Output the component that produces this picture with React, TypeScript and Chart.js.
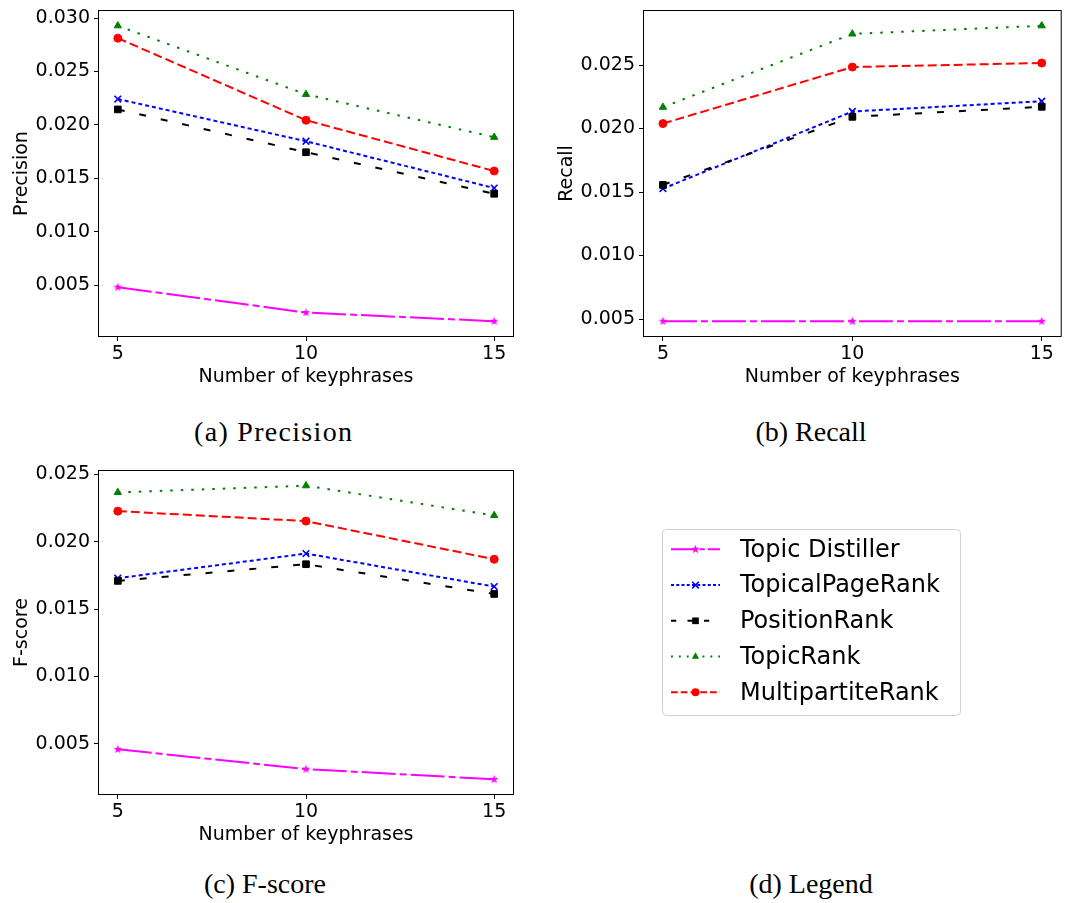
import React, { useEffect, useRef } from "react";
import { Chart, registerables } from "chart.js";

Chart.register(...registerables);

// ---------- data ----------
const keyphrases = [5, 10, 15];
const xTicks = [5, 10, 15];

const seriesNames = ["Topic Distiller", "TopicalPageRank", "PositionRank", "TopicRank", "MultipartiteRank"];

const precisionDistiller = [0.00481, 0.00243, 0.00162];
const precisionTopicalPageRank = [0.02242, 0.01847, 0.01409];
const precisionPositionRank = [0.02145, 0.01744, 0.01355];
const precisionTopicRank = [0.02928, 0.02286, 0.01885];
const precisionMultipartiteRank = [0.02812, 0.02044, 0.01568];

const recallDistiller = [0.00483, 0.00483, 0.00483];
const recallTopicalPageRank = [0.01527, 0.02134, 0.02215];
const recallPositionRank = [0.01556, 0.02092, 0.02171];
const recallTopicRank = [0.02168, 0.02745, 0.02809];
const recallMultipartiteRank = [0.02039, 0.02484, 0.02516];

const fscoreDistiller = [0.00459, 0.00312, 0.00236];
const fscoreTopicalPageRank = [0.01729, 0.01912, 0.01667];
const fscorePositionRank = [0.01709, 0.01833, 0.01612];
const fscoreTopicRank = [0.02366, 0.02416, 0.02195];
const fscoreMultipartiteRank = [0.02227, 0.02153, 0.0187];

const precisionTicks = [0.005, 0.01, 0.015, 0.02, 0.025, 0.03];
const recallTicks = [0.005, 0.01, 0.015, 0.02, 0.025];
const fscoreTicks = [0.005, 0.01, 0.015, 0.02, 0.025];

// ---------- styles ----------
const seriesColors = ["#ff00ff", "#0000ff", "#000000", "#008000", "#ff0000"];
const seriesDashes = [[34, 4, 7, 4], [4, 3], [7, 15], [2.5, 8], [9, 4]];
const seriesMarkers = ["star", "crossRot", "rect", "triangle", "circle"];
const seriesMarkerRadius = [4.5, 4.7, 4.7, 4.2, 4];

const FONT = "DejaVu Sans";
const TICK_SIZE = 19;
Chart.defaults.font.family = FONT;

function makeStar(color: string, r: number) {
  const c = document.createElement("canvas");
  const s = Math.ceil(r * 2 + 2);
  c.width = s;
  c.height = s;
  const ctx = c.getContext("2d")!;
  ctx.fillStyle = color;
  ctx.beginPath();
  for (let k = 0; k < 10; k++) {
    const ang = -Math.PI / 2 + (k * Math.PI) / 5;
    const rr = k % 2 === 0 ? r : r * 0.42;
    ctx.lineTo(s / 2 + rr * Math.cos(ang), s / 2 + rr * Math.sin(ang));
  }
  ctx.closePath();
  ctx.fill();
  return c;
}

function pointStyleFor(i: number): any {
  if (seriesMarkers[i] === "star") return makeStar(seriesColors[i], seriesMarkerRadius[i]);
  return seriesMarkers[i];
}

const framePlugin = {
  id: "frame",
  afterDatasetsDraw(chart: any) {
    const { ctx, chartArea: a } = chart;
    ctx.save();
    ctx.strokeStyle = "#000";
    ctx.lineWidth = 1;
    ctx.strokeRect(a.left - 0.5, a.top - 0.5, a.right - a.left + 1, a.bottom - a.top + 1);
    ctx.restore();
  },
};

type MetricProps = {
  left: number;
  top: number;
  width: number;
  height: number;
  padRight: number;
  yLabel: string;
  series: number[][];
  yTicks: number[];
};

function MetricChart(props: MetricProps) {
  const ref = useRef<HTMLCanvasElement>(null);
  useEffect(() => {
    const all = props.series.flat();
    const lo = Math.min(...all);
    const hi = Math.max(...all);
    const m = (hi - lo) * 0.05;
    const xr = (keyphrases[keyphrases.length - 1] - keyphrases[0]) * 0.05;
    const tickFont = { family: FONT, size: TICK_SIZE };
    const chart = new Chart(ref.current!, {
      type: "line",
      data: {
        datasets: props.series.map((vals, i) => ({
          label: seriesNames[i],
          data: vals.map((v, j) => ({ x: keyphrases[j], y: v })),
          borderColor: seriesColors[i],
          backgroundColor: seriesColors[i],
          borderWidth: 2,
          borderDash: seriesDashes[i],
          pointStyle: pointStyleFor(i),
          pointRadius: seriesMarkerRadius[i],
          pointBorderWidth: seriesMarkers[i] === "crossRot" ? 1.6 : 1,
          pointBackgroundColor: seriesColors[i],
          pointBorderColor: seriesColors[i],
          fill: false,
          tension: 0,
          order: seriesNames.length - i,
        })),
      },
      options: {
        responsive: false,
        animation: false,
        events: [],
        layout: { padding: { top: 11, right: props.padRight, left: 0, bottom: 0 } },
        plugins: { legend: { display: false }, tooltip: { enabled: false } },
        scales: {
          x: {
            type: "linear",
            min: keyphrases[0] - xr,
            max: keyphrases[keyphrases.length - 1] + xr,
            afterBuildTicks: (s: any) => {
              s.ticks = xTicks.map((v) => ({ value: v }));
            },
            afterFit: (s: any) => {
              s.height = 60;
              s.paddingLeft = 0;
              s.paddingRight = 0;
            },
            ticks: {
              font: tickFont,
              color: "#000",
              padding: 2,
              maxRotation: 0,
              autoSkip: false,
              callback: (v: any) => String(v),
            },
            grid: { drawOnChartArea: false, drawTicks: true, tickLength: 5, tickColor: "#000", tickWidth: 1 },
            border: { display: false },
            title: {
              display: true,
              text: "Number of keyphrases",
              font: tickFont,
              color: "#000",
              padding: { top: 0, bottom: 8 },
            },
          },
          y: {
            type: "linear",
            min: lo - m,
            max: hi + m,
            afterBuildTicks: (s: any) => {
              s.ticks = props.yTicks.map((v) => ({ value: v }));
            },
            afterFit: (s: any) => {
              s.width = 99;
              s.paddingTop = 0;
              s.paddingBottom = 0;
            },
            ticks: {
              font: tickFont,
              color: "#000",
              padding: 4,
              autoSkip: false,
              callback: (v: any) => Number(v).toFixed(3),
            },
            grid: { drawOnChartArea: false, drawTicks: true, tickLength: 5, tickColor: "#000", tickWidth: 1 },
            border: { display: false },
            title: {
              display: true,
              text: props.yLabel,
              font: tickFont,
              color: "#000",
              padding: { top: 10.5, bottom: 0 },
            },
          },
        },
      },
      plugins: [framePlugin],
    } as any);
    return () => chart.destroy();
  }, []);
  return (
    <canvas
      ref={ref}
      width={props.width}
      height={props.height}
      style={{ position: "absolute", left: props.left, top: props.top, width: props.width, height: props.height }}
    />
  );
}

function drawMarker(ctx: CanvasRenderingContext2D, i: number, x: number, y: number) {
  const r = seriesMarkerRadius[i];
  const c = seriesColors[i];
  ctx.save();
  ctx.setLineDash([]);
  ctx.fillStyle = c;
  ctx.strokeStyle = c;
  ctx.lineWidth = 1;
  const kind = seriesMarkers[i];
  ctx.beginPath();
  if (kind === "circle") {
    ctx.arc(x, y, r, 0, Math.PI * 2);
    ctx.fill();
  } else if (kind === "rect") {
    const s = r * Math.SQRT1_2;
    ctx.fillRect(x - s, y - s, 2 * s, 2 * s);
  } else if (kind === "triangle") {
    let rad = 0;
    ctx.moveTo(x + Math.sin(rad) * r, y - Math.cos(rad) * r);
    rad += (2 * Math.PI) / 3;
    ctx.lineTo(x + Math.sin(rad) * r, y - Math.cos(rad) * r);
    rad += (2 * Math.PI) / 3;
    ctx.lineTo(x + Math.sin(rad) * r, y - Math.cos(rad) * r);
    ctx.closePath();
    ctx.fill();
  } else if (kind === "crossRot") {
    const o = Math.cos(Math.PI / 4) * r;
    ctx.lineWidth = 1.6;
    ctx.moveTo(x - o, y - o);
    ctx.lineTo(x + o, y + o);
    ctx.moveTo(x - o, y + o);
    ctx.lineTo(x + o, y - o);
    ctx.stroke();
  } else if (kind === "star") {
    const img = makeStar(c, r);
    ctx.drawImage(img, x - img.width / 2, y - img.height / 2);
  }
  ctx.restore();
}

const legendPlugin = {
  id: "customLegend",
  afterDraw(chart: any) {
    const ctx: CanvasRenderingContext2D = chart.ctx;
    const boxL = 117, boxT = 69, boxW = 298, boxH = 186;
    ctx.save();
    ctx.fillStyle = "#fff";
    ctx.strokeStyle = "#d0d0d0";
    ctx.lineWidth = 1;
    ctx.beginPath();
    (ctx as any).roundRect(boxL + 0.5, boxT + 0.5, boxW, boxH, 4);
    ctx.fill();
    ctx.stroke();
    const row0 = 89.3;
    const step = 35.75;
    for (let i = 0; i < seriesNames.length; i++) {
      const y = row0 + i * step;
      ctx.save();
      ctx.strokeStyle = seriesColors[i];
      ctx.lineWidth = 2;
      ctx.setLineDash(seriesDashes[i].map((d) => d * 0.75));
      ctx.beginPath();
      ctx.moveTo(126, y);
      ctx.lineTo(175, y);
      ctx.stroke();
      ctx.restore();
      drawMarker(ctx, i, 150.5, y);
      ctx.fillStyle = "#000";
      ctx.font = `24px '${FONT}'`;
      ctx.textBaseline = "middle";
      ctx.textAlign = "left";
      ctx.fillText(seriesNames[i], 195, y + 1);
    }
    ctx.restore();
  },
};

function LegendPanel(props: { left: number; top: number; width: number; height: number }) {
  const ref = useRef<HTMLCanvasElement>(null);
  useEffect(() => {
    const chart = new Chart(ref.current!, {
      type: "line",
      data: { datasets: [] },
      options: {
        responsive: false,
        animation: false,
        events: [],
        plugins: { legend: { display: false }, tooltip: { enabled: false } },
        scales: { x: { display: false }, y: { display: false } },
      },
      plugins: [legendPlugin],
    } as any);
    return () => chart.destroy();
  }, []);
  return (
    <canvas
      ref={ref}
      width={props.width}
      height={props.height}
      style={{ position: "absolute", left: props.left, top: props.top, width: props.width, height: props.height }}
    />
  );
}

function Caption(props: { text: string; cx: number; baseline: number; spacing?: number }) {
  const sp = props.spacing || 0;
  return (
    <div
      style={{
        position: "absolute",
        left: props.cx - 150 + sp / 2,
        width: 300,
        top: props.baseline - 23.4,
        textAlign: "center",
        fontFamily: "'Liberation Serif', 'Times New Roman', serif",
        fontSize: 28,
        lineHeight: "28px",
        letterSpacing: sp,
        color: "#000",
        whiteSpace: "nowrap",
      }}
    >
      {props.text}
    </div>
  );
}

export default function App() {
  return (
    <div style={{ position: "fixed", left: 0, top: 0, width: 1067, height: 903, background: "#fff", overflow: "hidden" }}>
      <MetricChart
        left={0}
        top={0}
        width={530}
        height={396}
        padRight={17}
        yLabel="Precision"
        series={[precisionDistiller, precisionTopicalPageRank, precisionPositionRank, precisionTopicRank, precisionMultipartiteRank]}
        yTicks={precisionTicks}
      />
      <MetricChart
        left={545}
        top={0}
        width={522}
        height={396}
        padRight={6}
        yLabel="Recall"
        series={[recallDistiller, recallTopicalPageRank, recallPositionRank, recallTopicRank, recallMultipartiteRank]}
        yTicks={recallTicks}
      />
      <MetricChart
        left={0}
        top={460}
        width={530}
        height={394}
        padRight={17}
        yLabel="F-score"
        series={[fscoreDistiller, fscoreTopicalPageRank, fscorePositionRank, fscoreTopicRank, fscoreMultipartiteRank]}
        yTicks={fscoreTicks}
      />
      <LegendPanel left={545} top={460} width={522} height={394} />
      <Caption text="(a) Precision" cx={273} baseline={441.7} spacing={1.3} />
      <Caption text="(b) Recall" cx={811} baseline={441.7} />
      <Caption text="(c) F-score" cx={265} baseline={893} />
      <Caption text="(d) Legend" cx={811} baseline={893} />
    </div>
  );
}
